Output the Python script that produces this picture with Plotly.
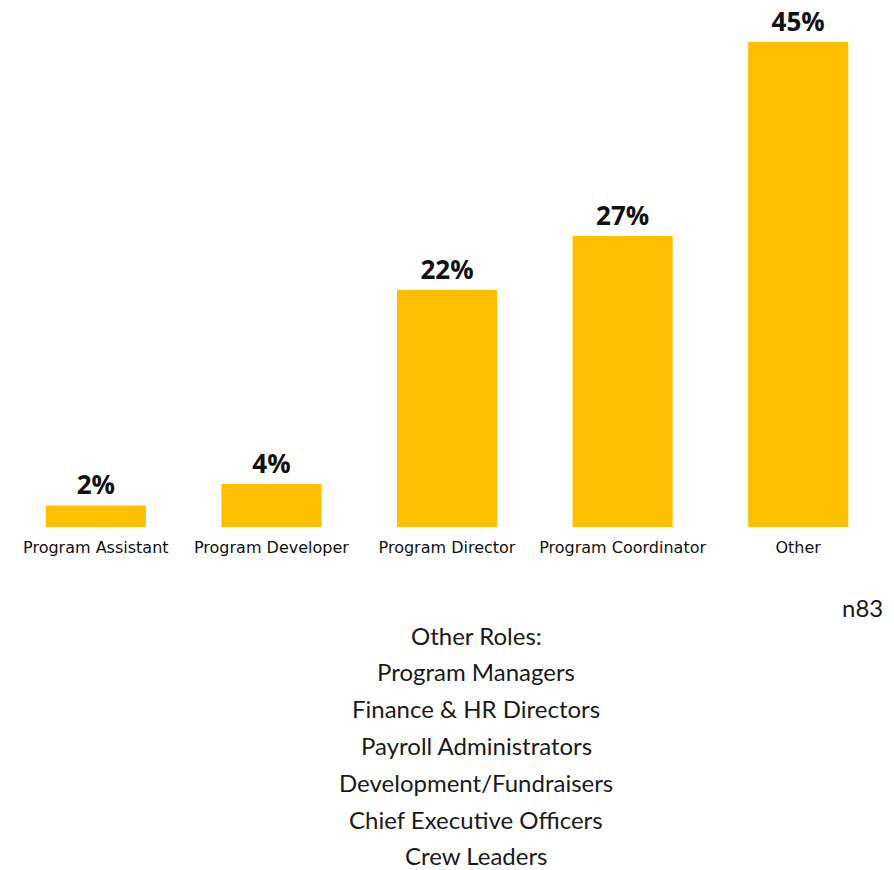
import plotly.graph_objects as go

# ==========================================
# DATA
# ==========================================

roles = ["Program Assistant", "Program Developer", "Program Director",
         "Program Coordinator", "Other"]
shares = [2, 4, 22, 27, 45]
bar_labels = ["2%", "4%", "22%", "27%", "45%"]

other_roles_title = "Other Roles:"
other_roles = ["Program Managers", "Finance & HR Directors", "Payroll Administrators",
               "Development/Fundraisers", "Chief Executive Officers", "Crew Leaders"]
sample_note = "n83"

# page body adds an 8px offset, so layout is worked out in screen pixels
OFF = 8
W, H = 894, 870
M_L, M_R, M_T, M_B = 0, 894 - (886 - OFF), 20 - OFF, 870 - (527 - OFF)
PLOT_W = W - M_L - M_R
PLOT_H = H - M_T - M_B


def _py(y_screen):
    # screen row -> paper coordinate
    return (H - M_B - (y_screen - OFF)) / PLOT_H


def _px(x_screen):
    return ((x_screen - OFF) - M_L) / PLOT_W


fig = go.Figure()

fig.add_trace(
    go.Bar(
        x=roles,
        y=shares,
        text=bar_labels,
        textposition="outside",
        textfont=dict(family="Open Sans", size=26, color="#111111", weight=700),
        marker=dict(color="#FFC000", line=dict(width=0)),
        cliponaxis=False,
        hoverinfo="skip",
    )
)

# ==========================================
# ANNOTATIONS
# ==========================================

text_font = dict(family="Lato", size=24, color="#1a1a1a")
lines = [other_roles_title] + other_roles
annotations = []
for i, line in enumerate(lines):
    annotations.append(dict(
        text=line, xref="paper", yref="paper",
        x=_px(476), y=_py(635 + i * 36.8),
        xanchor="center", yanchor="middle",
        showarrow=False, font=text_font,
    ))

annotations.append(dict(
    text=sample_note, xref="paper", yref="paper",
    x=_px(862), y=_py(607), xanchor="center", yanchor="middle",
    showarrow=False, font=text_font,
))

fig.update_layout(
    width=W,
    height=H,
    paper_bgcolor="white",
    plot_bgcolor="white",
    margin=dict(l=M_L, r=M_R, t=M_T, b=M_B),
    bargap=0.43,
    showlegend=False,
    annotations=annotations,
)

fig.update_xaxes(
    showgrid=False,
    showline=False,
    zeroline=False,
    ticks="",
    ticklabelstandoff=9,
    tickfont=dict(family="DejaVu Sans", size=16, color="#111111"),
    tickangle=0,
)

fig.update_yaxes(
    range=[0, PLOT_H / 10.78],
    visible=False,
    showgrid=False,
    zeroline=False,
)

fig.write_html("out.html")
